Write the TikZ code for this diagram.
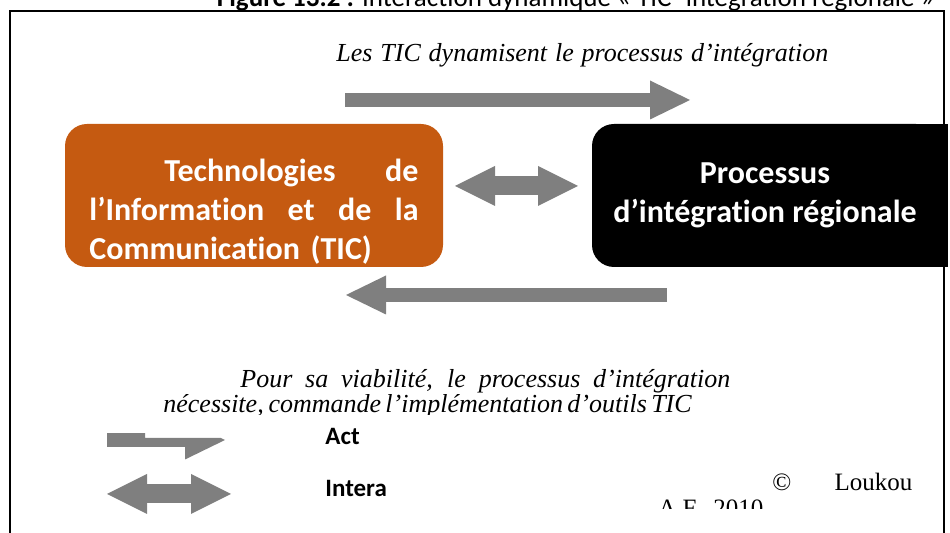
\documentclass[tikz,border=0pt]{standalone}
\usepackage{fontspec}
\setmainfont{Liberation Serif}
\newfontfamily\calibri[RawFeature=-liga]{Carlito}
\usepackage{xcolor}
\definecolor{cTIC}{HTML}{C55A11}
\definecolor{cArrow}{HTML}{7F7F7F}
\definecolor{cFrame}{HTML}{000000}
\usetikzlibrary{positioning,arrows.meta}
\tikzset{
  node-tic/.style={fill=cTIC,rounded corners=11pt,minimum width=189pt,
    minimum height=71.5pt,text width=164.5pt,align=left,inner sep=0pt,
    text=white,font=\calibri\bfseries\fontsize{16}{19.5}\selectfont},
  node-pir/.style={fill=black,rounded corners=11pt,minimum width=173pt,
    minimum height=71.5pt,align=center,inner sep=0pt,
    text=white,font=\calibri\bfseries\fontsize{16}{19.5}\selectfont},
  arrow-act/.style={draw=cArrow,line width=7pt,
    -{Triangle[length=20pt,width=19.5pt,line width=0pt]}},
  arrow-inter/.style={draw=cArrow,line width=9.5pt,
    {Triangle[length=20pt,width=20pt,line width=0pt]}-{Triangle[length=20pt,width=20pt,line width=0pt]}},
  note/.style={inner sep=0pt,anchor=base west,font=\itshape\fontsize{13}{15}\selectfont},
  note-up/.style={inner sep=0pt,anchor=base west,font=\fontsize{12.5}{15}\selectfont},
  legend/.style={inner sep=0pt,anchor=base west,font=\calibri\bfseries\fontsize{12.5}{14}\selectfont},
  title/.style={inner sep=0pt,anchor=base east,font=\calibri\fontsize{13.5}{15}\selectfont},
  frame/.style={draw=cFrame,line width=1pt},
}
\begin{document}
\begin{tikzpicture}[x=0.5pt,y=-0.5pt]
  \useasboundingbox (0,0) rectangle (950,533);
  % cadre et titre (coupes)
  \node[title] (title) at (935,7) {\textbf{Figure 13.2 :} Interaction dynamique « TIC- intégration régionale »};
  \draw[frame] (9.5,540) -- (9.5,11.5) -- (944,11.5) -- (944,540);

  % les deux blocs
  \node[node-tic] (tic) at (254,195.5)
    {\rule{0pt}{27pt}\hspace*{37.5pt}Technologies\hfill de\\
     l’Information\hfill et\hfill de\hfill la\\
     Communication (TIC)};
  \fill[black] (765,124) rectangle (948,267);
  \node[node-pir] (pir) at (765,195.5) {Processus\\d’intégration régionale};

  % fleches
  \coordinate (actL) at (345,100);
  \coordinate (actR) at (690,100);
  \coordinate (retR) at (667,295);
  \coordinate (retL) at (346,295);
  \coordinate (interL) at (455,186);
  \coordinate (interR) at (578,186);
  \draw[arrow-act] (actL) -- (actR);
  \draw[arrow-act] (retR) -- (retL);
  \draw[arrow-inter] (interL) -- (interR);

  % textes
  \node[note] (topTxt) at (336,62) {\makebox[246pt][s]{Les TIC dynamisent le processus d’intégration}};
  \node[note] (botTxtA) at (240,388) {\makebox[245pt][s]{Pour sa viabilité, le processus d’intégration}};
  \begin{scope}
    \clip (150,395) rectangle (760,415);
    \node[note] (botTxtB) at (163,413) {\makebox[262.5pt][s]{nécessite, commande l’implémentation d’outils TIC}};
  \end{scope}

  % legende
  \coordinate (legActL) at (107,440);
  \coordinate (legActR) at (225,440);
  \coordinate (legInterL) at (107,494);
  \coordinate (legInterR) at (231,494);
  \begin{scope}
    \clip (100,433) rectangle (145,470) (145,438) rectangle (240,470);
    \draw[arrow-act] (legActL) -- (legActR);
  \end{scope}
  \draw[arrow-inter] (legInterL) -- (legInterR);
  \node[legend] (actLbl) at (325,445) {Act};
  \node[legend] (interLbl) at (325,497) {Intera};

  % source
  \node[note-up] (copyTxt) at (772,491) {\makebox[70pt][s]{© Loukou}};
  \begin{scope}
    \clip (600,498) rectangle (800,509);
    \node[note-up] (srcTxt) at (658,517) {A.F., 2010};
  \end{scope}
\end{tikzpicture}
\end{document}
